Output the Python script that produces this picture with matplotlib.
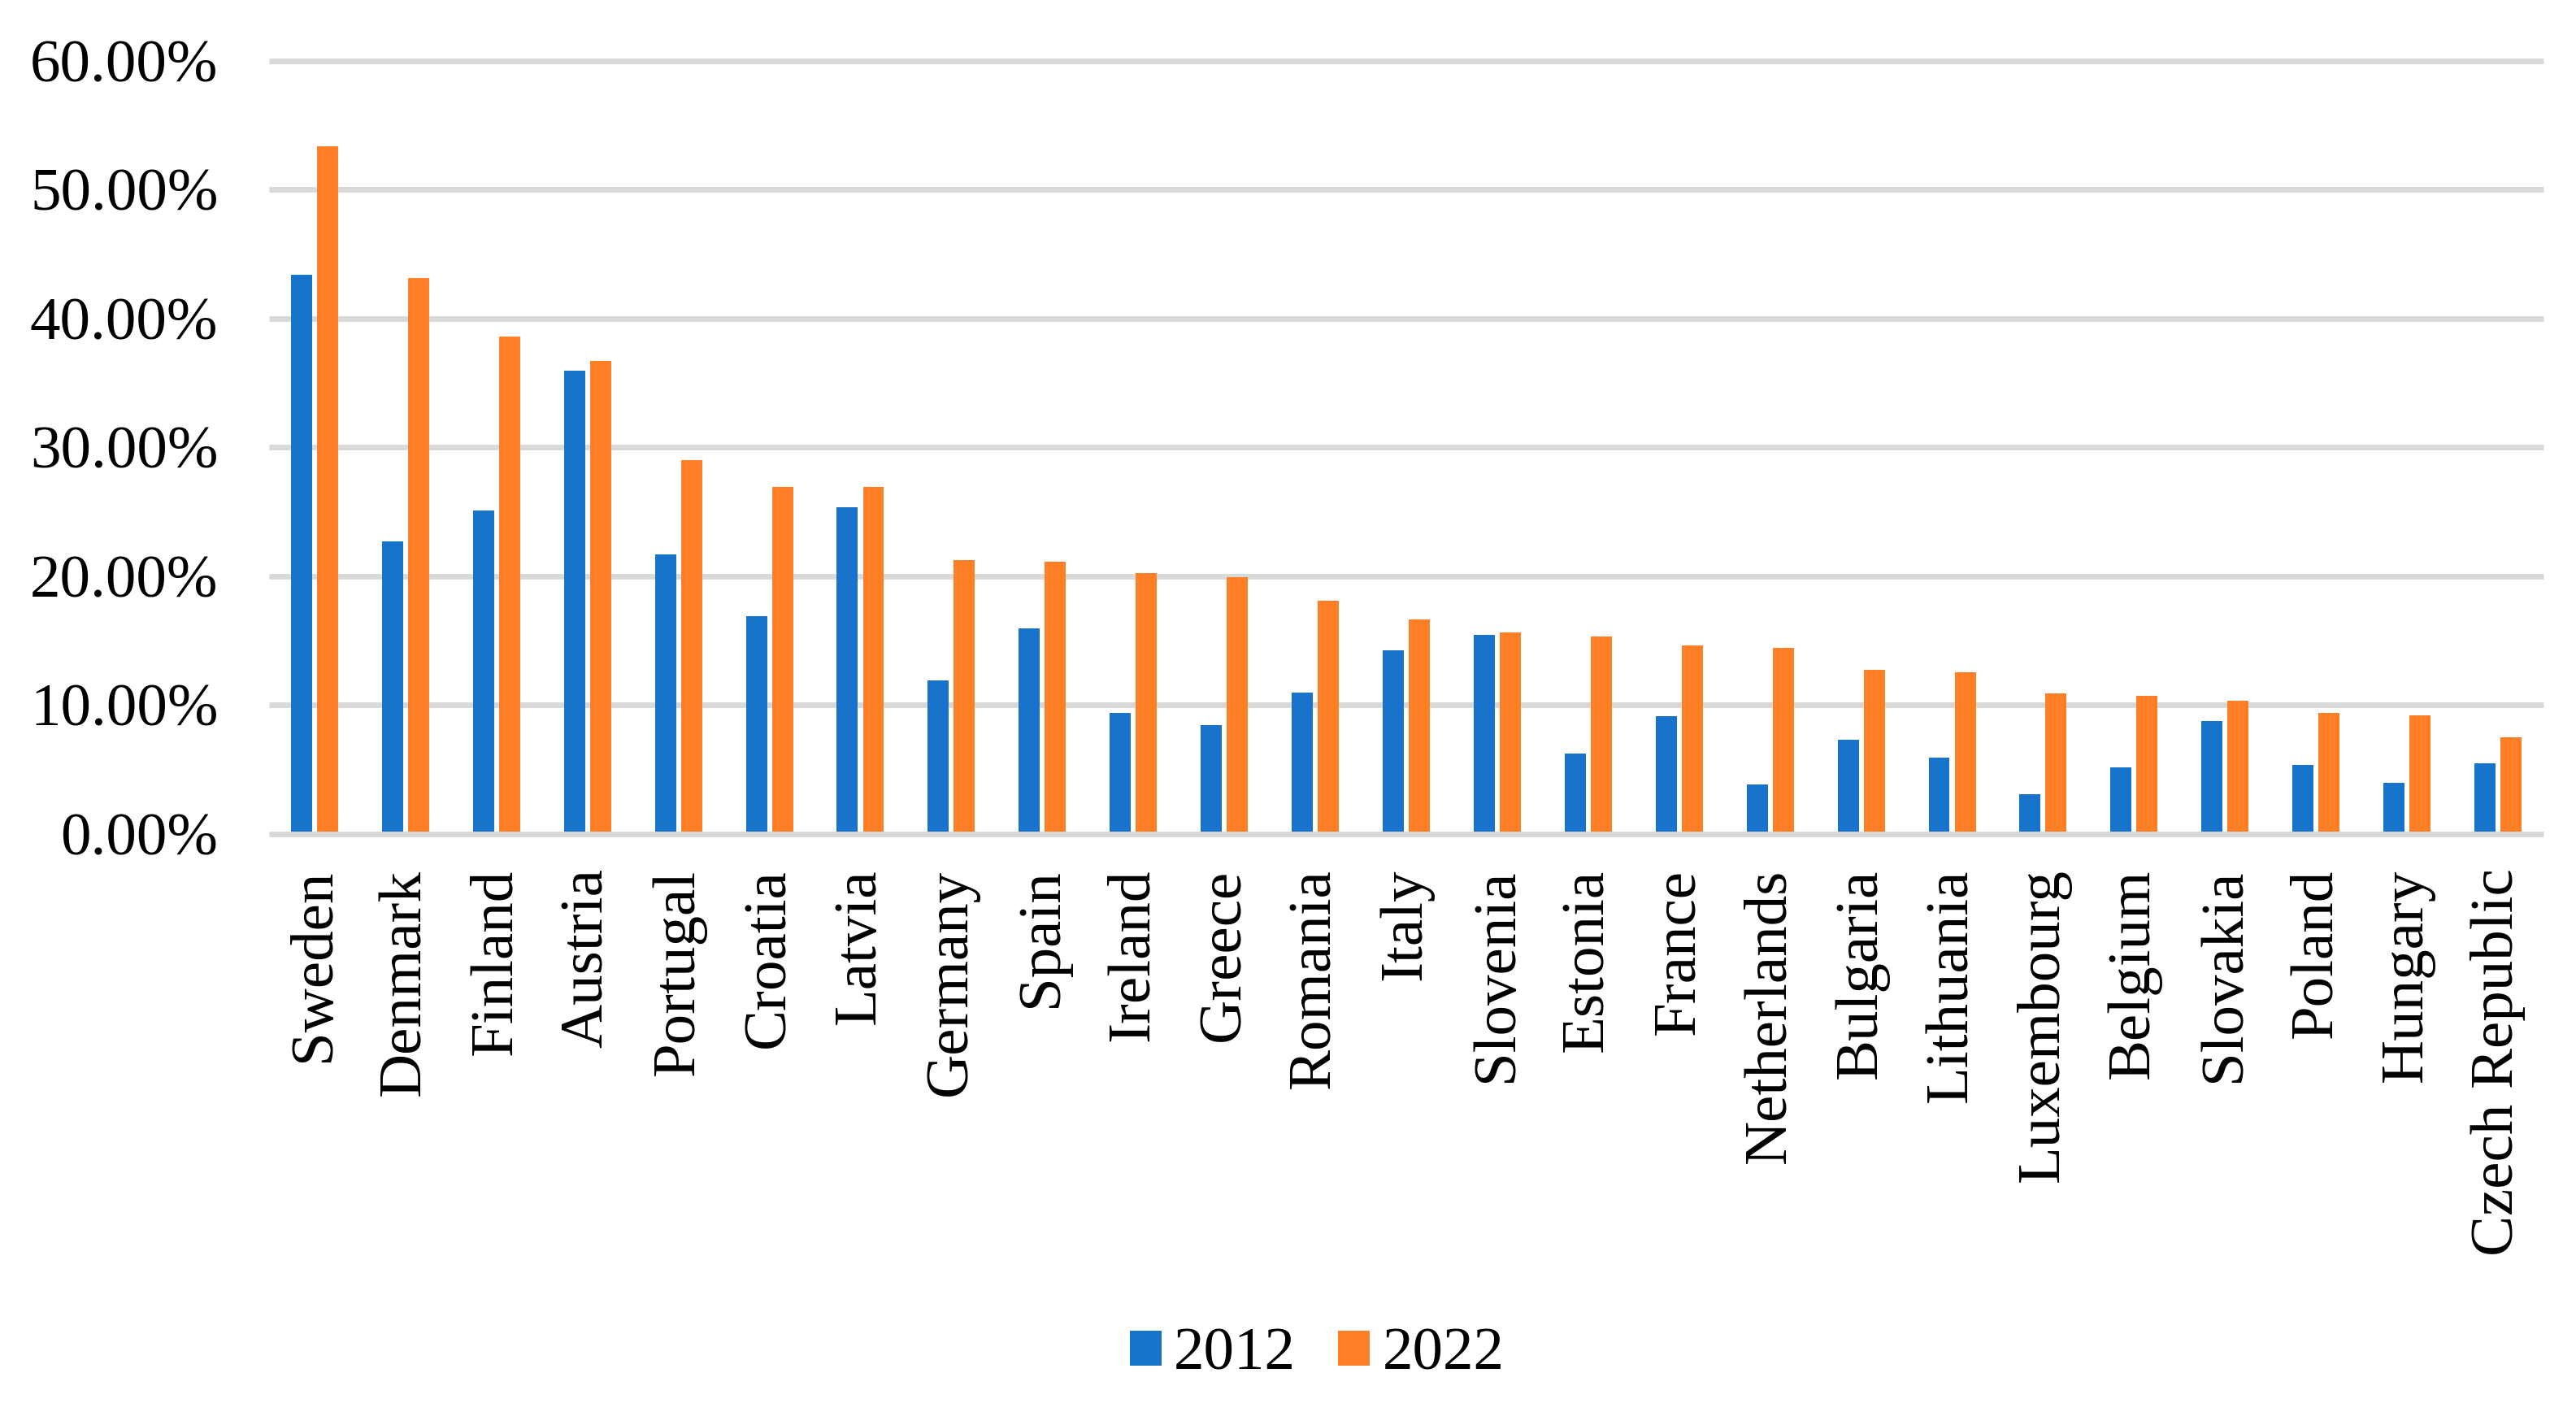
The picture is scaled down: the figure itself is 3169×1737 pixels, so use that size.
import matplotlib
matplotlib.use("Agg")
import matplotlib.pyplot as plt
import numpy as np
from matplotlib.ticker import FuncFormatter
from matplotlib.patches import Patch

countries = ["Sweden", "Denmark", "Finland", "Austria", "Portugal", "Croatia", "Latvia",
             "Germany", "Spain", "Ireland", "Greece", "Romania", "Italy", "Slovenia",
             "Estonia", "France", "Netherlands", "Bulgaria", "Lithuania", "Luxembourg",
             "Belgium", "Slovakia", "Poland", "Hungary", "Czech Republic"]
v2012 = [43.4, 22.7, 25.1, 35.9, 21.7, 16.9, 25.3, 11.9, 15.9, 9.35, 8.45, 10.97, 14.2,
         15.45, 6.2, 9.1, 3.84, 7.3, 5.93, 3.03, 5.16, 8.75, 5.3, 3.93, 5.44]
v2022 = [53.35, 43.1, 38.6, 36.7, 29.0, 26.9, 26.9, 21.25, 21.1, 20.2, 19.9, 18.1, 16.6,
         15.6, 15.3, 14.6, 14.4, 12.7, 12.55, 10.9, 10.7, 10.3, 9.4, 9.16, 7.46]
series_labels = ["2012", "2022"]
yticks = [0, 10, 20, 30, 40, 50, 60]

blue = "#1874CB"
orange = "#FF7F27"
grid_c = "#D9D9D9"

W, H = 3169, 1737
fig = plt.figure(figsize=(W / 100, H / 100), dpi=100)
plt.rcParams["font.family"] = ["Liberation Serif", "DejaVu Serif"]

ax = fig.add_axes([331 / W, 1 - 1025.5 / H, (3129 - 331) / W, (1025.5 - 74.5) / H])

x = np.arange(len(countries))
bw = 0.232
off = 0.143
ax.bar(x - off, np.array(v2012) / 100, width=bw, color=blue, zorder=2)
ax.bar(x + off, np.array(v2022) / 100, width=bw, color=orange, zorder=2)

ax.set_xlim(-0.5, len(countries) - 0.5)
ax.set_ylim(0, 0.6)

yt = np.array(yticks) / 100
ax.hlines(yt[1:], -0.5, len(countries) - 0.5, colors=grid_c, linewidth=5, zorder=1, clip_on=False)
ax.hlines([0], -0.5, len(countries) - 0.5, colors=grid_c, linewidth=5, zorder=3, clip_on=False)

ax.set_yticks(yt)
ax.yaxis.set_major_formatter(FuncFormatter(lambda v, p: f"{v*100:.2f}%"))
ax.set_xticks(x)
ax.set_xticklabels(countries, rotation=90)
ax.tick_params(axis="both", length=0, labelsize=54, colors="black")
ax.tick_params(axis="y", pad=45)
ax.tick_params(axis="x", pad=31)
for s in ax.spines.values():
    s.set_visible(False)

handles = [Patch(facecolor=blue, edgecolor="none"), Patch(facecolor=orange, edgecolor="none")]
fig.legend(handles, series_labels, loc="center", bbox_to_anchor=(1620 / W, 1 - 1667 / H),
           ncol=2, frameon=False, fontsize=54, handlelength=0.52, handleheight=0.5,
           handletextpad=0.2, columnspacing=0.7, borderpad=0)

fig.savefig("out.png", dpi=100, facecolor="white")
